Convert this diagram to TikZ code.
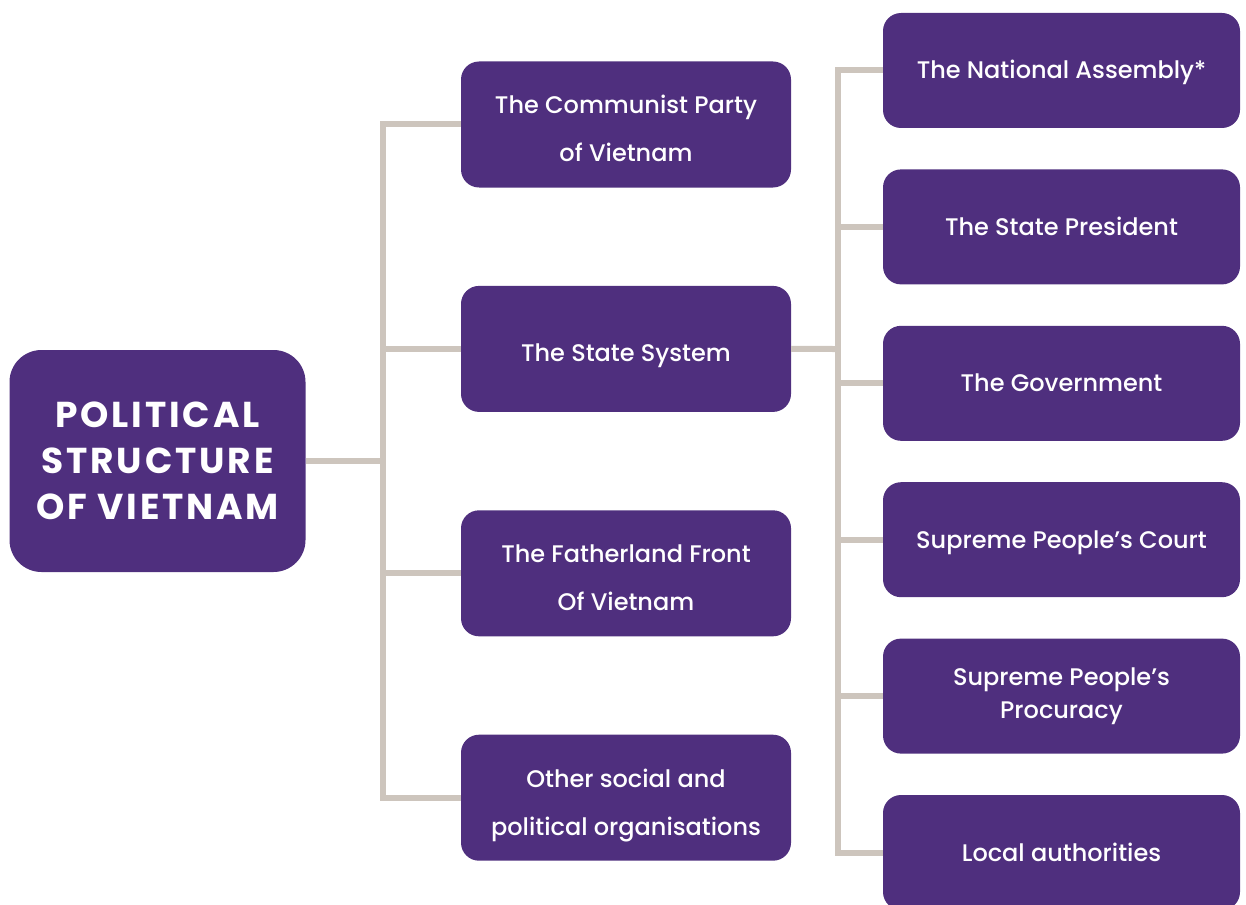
\documentclass[tikz,border=0pt]{standalone}
\usepackage{fontspec}
\setmainfont{Poppins}[UprightFont=* Medium, BoldFont=* Bold]
\usetikzlibrary{positioning}
\definecolor{vnpurple}{HTML}{4F2F7E}
\definecolor{linkgrey}{HTML}{CDC5BD}

\begin{document}
\begin{tikzpicture}[x=1pt,y=-1pt]
    \tikzset{root node/.style = {fill=vnpurple, text=white, rounded corners=32pt, minimum width=296pt, minimum height=222pt, align=center, text height=116pt, text depth=0pt, font=\bfseries\fontsize{36}{46}\selectfont\addfontfeature{LetterSpace=8}},
    branch node/.style = {fill=vnpurple, text=white, rounded corners=18pt, minimum width=330pt, minimum height=126pt, align=center, text height=26pt, text depth=0pt, font=\fontsize{24}{48}\selectfont},
    two lines/.style = {text height=75pt},
    leaf node/.style = {branch node, minimum width=357pt, minimum height=115pt, text height=17pt},
    link/.style = {draw=linkgrey, line width=6pt}}
    \useasboundingbox (0,0) rectangle (1246,904);
    \node[root node] (pol) at (157.5,461) {POLITICAL\\STRUCTURE\\OF VIETNAM};
    %% middle column
    \node[branch node, two lines] (cpv) at (626,124.5) {The Communist Party\\of Vietnam};
    \node[branch node] (state) [below = 98pt of cpv] {The State System};
    \node[branch node, two lines] (front) [below = 98pt of state] {The Fatherland Front\\Of Vietnam};
    \node[branch node, two lines] (other) [below = 98pt of front] {Other social and\\political organisations};
    %% right column
    \node[leaf node] (na) at (1061.5,70.5) {The National Assembly*};
    \node[leaf node] (pres) [below = 41pt of na] {The State President};
    \node[leaf node] (gov) [below = 41pt of pres] {The Government};
    \node[leaf node] (court) [below = 41pt of gov] {Supreme People’s Court};
    \node[leaf node] (proc) [below = 41pt of court, text height=45pt, font=\fontsize{24}{33}\selectfont] {Supreme People’s\\Procuracy};
    \node[leaf node] (local) [below = 41pt of proc] {Local authorities};
    %% connectors
    \coordinate (lt) at (383,461);
    \coordinate (rt) at (838,349);
    \path[link] (pol) -- (lt);
    \path[link] (cpv.west) -- (cpv.west -| lt) -- (other.west -| lt) -- (other.west);
    \foreach \n in {state,front}
        \path[link] (\n.west) -- (\n.west -| lt);
    \path[link] (state) -- (rt);
    \path[link] (na.west) -- (na.west -| rt) -- (local.west -| rt) -- (local.west);
    \foreach \n in {pres,gov,court,proc}
        \path[link] (\n.west) -- (\n.west -| rt);
\end{tikzpicture}
\end{document}
